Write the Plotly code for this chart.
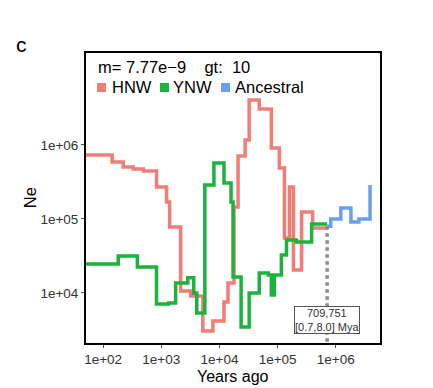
import numpy as np
import plotly.graph_objects as go

# ---- data ----
split_time = 709751

hnw_years = [50, 143, 222, 330, 493, 828, 1233, 1390, 2153, 3206, 5176, 7709, 11960,
             14030, 17820, 20900, 27660, 32430, 48310, 77980, 107000, 131000, 160000,
             187000, 258000, 400000, 709751]
hnw_ne = [7.3e5, 5.9e5, 5.05e5, 4.74e5, 4.46e5, 2.70e5, 1.70e5, 7.8e4, 1.06e4, 9.1e3,
          3.06e3, 4.19e3, 7.55e3, 1.36e4, 1.45e5, 7.1e5, 1.17e6, 4.05e6, 3.06e6, 9.1e5,
          4.89e5, 5.53e4, 2.70e5, 2.05e4, 1.24e5, 7.55e4, 7.55e4]

ynw_years = [50, 182, 388, 828, 1336, 1766, 2851, 3616, 4074, 5609, 8035, 11960, 15820,
             17130, 23570, 32430, 48310, 69200, 77980, 87900, 116000, 142000, 211000,
             384000, 709751]
ynw_ne = [2.47e4, 3.16e4, 2.24e4, 7.1e3, 7.3e3, 1.36e4, 1.6e4, 1.0e4, 5.37e3, 2.88e5,
          5.7e5, 3.06e5, 1.70e5, 1.64e4, 3.48e3, 1.0e4, 1.86e4, 1.75e4, 9.4e3, 1.75e4,
          3.27e4, 5.2e4, 4.89e4, 8.55e4, 8.55e4]

anc_years = [709751, 819000, 1220000, 1820000, 2500000, 3880000]
anc_ne = [8.0e4, 1.0e5, 1.41e5, 9.1e4, 1.0e5, 2.88e5]

x_tickvals = [1e2, 1e3, 1e4, 1e5, 1e6]
x_ticktext = ["1e+02", "1e+03", "1e+04", "1e+05", "1e+06"]
y_tickvals = [1e4, 1e5, 1e6]
y_ticktext = ["1e+04", "1e+05", "1e+06"]

series_names = ["HNW", "YNW", "Ancestral"]
colors = ["#F27D77", "#1BB33C", "#6A9FF0"]

x_range = [1.706, 6.76]
y_range = [3.324, 7.243]

FONT = "Arial, Liberation Sans, sans-serif"

fig = go.Figure()
for yrs, ne, name, col in zip([hnw_years, ynw_years, anc_years],
                              [hnw_ne, ynw_ne, anc_ne], series_names, colors):
    fig.add_trace(go.Scatter(x=yrs, y=ne, mode="lines", name=name,
                             line=dict(color=col, width=3.5, shape="hv"),
                             showlegend=False))

# dotted split line
fig.add_shape(type="line", xref="x", yref="y", x0=split_time, x1=split_time,
              y0=anc_ne[0], y1=10 ** y_range[0],
              line=dict(color="#8a8a8a", width=3.5, dash="dot"))

fig.add_annotation(xref="x", yref="paper", x=np.log10(split_time), y=0.081,
                   xanchor="center", yanchor="middle",
                   text="709,751<br>[0.7,8.0] Mya", showarrow=False,
                   font=dict(family=FONT, size=11, color="#333"),
                   bgcolor="white", bordercolor="#555", borderwidth=1, borderpad=0)

# title-like text and custom legend
fig.add_annotation(xref="paper", yref="paper", x=0.033, y=0.952, xanchor="left",
                   yanchor="middle",
                   text="m= 7.77e\u22129&nbsp;&nbsp;&nbsp;&nbsp;gt:&nbsp;&nbsp;10",
                   showarrow=False,
                   font=dict(family=FONT, size=16.5, color="black"))

sq = [(97, 106), (160, 169), (221, 230)]
txt_x = [110, 171, 233]
for (a, b), tx, name, col in zip(sq, txt_x, series_names, colors):
    fig.add_shape(type="rect", xref="paper", yref="paper",
                  x0=(a - 86) / 294, x1=(b - 86) / 294,
                  y0=(343 - 92) / 290, y1=(343 - 83) / 290,
                  fillcolor=col, line=dict(width=0))
    fig.add_annotation(xref="paper", yref="paper", x=(tx - 86) / 294, y=0.882,
                       xanchor="left", yanchor="middle", text=name, showarrow=False,
                       font=dict(family=FONT, size=16.5, color="black"))

fig.add_annotation(xref="paper", yref="paper", x=-0.221, y=1.028, text="c",
                   xanchor="center", yanchor="middle",
                   showarrow=False, font=dict(family=FONT, size=21, color="black"))
fig.add_annotation(xref="paper", yref="paper", x=-0.19, y=0.5, text="Ne",
                   xanchor="center", yanchor="middle",
                   textangle=-90, showarrow=False,
                   font=dict(family=FONT, size=16.5, color="black"))
fig.add_annotation(xref="paper", yref="paper", x=0.5, y=-0.116, text="Years ago",
                   showarrow=False, xanchor="center", yanchor="middle",
                   font=dict(family=FONT, size=16, color="black"))

axis_common = dict(showgrid=False, zeroline=False, showline=True, mirror=True,
                   linecolor="black", linewidth=2, ticks="outside", ticklen=3,
                   tickcolor="#555", tickwidth=1,
                   tickfont=dict(family=FONT, size=13.5, color="#333"))

fig.update_xaxes(type="log", range=x_range, tickvals=x_tickvals, ticktext=x_ticktext,
                 **axis_common)
fig.update_yaxes(type="log", range=y_range, tickvals=y_tickvals, ticktext=y_ticktext,
                 **axis_common)

# the page body adds an 8px offset, so margins are shifted to compensate
fig.update_layout(width=433, height=388, margin=dict(l=78, r=61, t=45, b=53),
                  plot_bgcolor="white", paper_bgcolor="white", showlegend=False)

fig.write_html("out.html")
